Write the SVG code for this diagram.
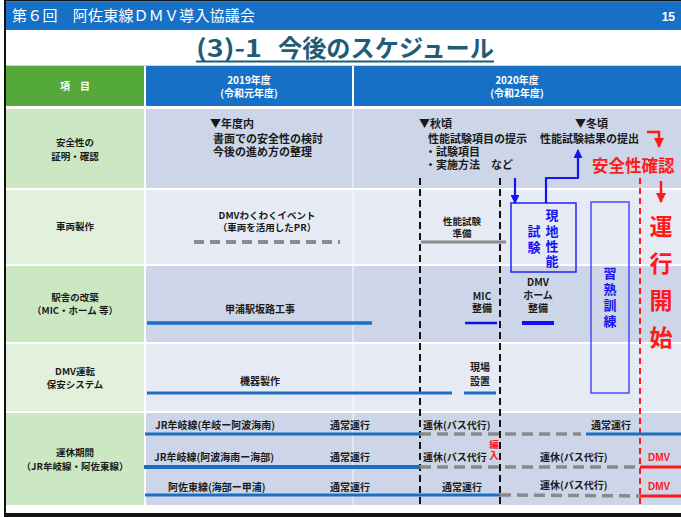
<svg xmlns="http://www.w3.org/2000/svg" width="681" height="517" viewBox="0 0 681 517">
<style>
text{font-family:"Noto Sans CJK JP","Noto Sans",sans-serif;}
.lbl{font-size:9.5px;font-weight:bold;fill:#1a1a1a;text-anchor:middle;}
.t{font-size:10px;font-weight:bold;fill:#1a1a1a;}
.tc{font-size:10px;font-weight:bold;fill:#1a1a1a;text-anchor:middle;}
.t11{font-size:11px;font-weight:bold;fill:#1a1a1a;}
.hd{font-size:10px;font-weight:bold;fill:#fff;text-anchor:middle;}
.red{fill:#ff1a1a;font-weight:bold;}
.vt{writing-mode:vertical-rl;}
.blu{fill:#1414f0;font-weight:bold;font-size:13px;}
.bl{stroke:#1a6fc4;stroke-width:3;fill:none;}
.gd{stroke:#8a8a8a;stroke-width:3.5;stroke-dasharray:11 6;fill:none;}
.rl{stroke:#ff1a1a;stroke-width:3;fill:none;}
.kd{stroke:#111;stroke-width:2;stroke-dasharray:7 4;fill:none;}
.ar{stroke:#1414f0;stroke-width:2.2;fill:none;}
.ra{stroke:#ff1a1a;stroke-width:2.5;fill:none;}
.dk{fill:#cdd6e9;}
.lt{fill:#e6eaf5;}
.gdk{fill:#cce8c2;}
.glt{fill:#e2f1dc;}
</style>
<defs>
<marker id="ahb" viewBox="0 0 10 10" refX="9" refY="5" markerWidth="4" markerHeight="4" orient="auto" markerUnits="strokeWidth"><path d="M0,0 L10,5 L0,10 Z" fill="#1414f0"/></marker>
<marker id="ahr" viewBox="0 0 10 10" refX="9" refY="5" markerWidth="4" markerHeight="4" orient="auto" markerUnits="strokeWidth"><path d="M0,0 L10,5 L0,10 Z" fill="#ff1a1a"/></marker>
</defs>
<rect x="0" y="0" width="681" height="517" fill="#fff"/>
<!-- frame -->
<rect x="4" y="0" width="677" height="1.5" fill="#111"/>
<rect x="4" y="0" width="2" height="517" fill="#111"/>
<rect x="4" y="513" width="677" height="4" fill="#111"/>
<!-- header bar -->
<g id="header">
<rect x="6" y="1.5" width="675" height="28.5" fill="#1570c6"/>
<text x="12" y="21" style="font-size:15px;fill:#fff;" textLength="243" lengthAdjust="spacing">第６回　阿佐東線ＤＭＶ導入協議会</text>
<text x="675" y="21" style="font-size:12px;font-weight:bold;fill:#fff;text-anchor:end;font-family:'Liberation Sans',sans-serif;">15</text>
</g>
<g id="title">
<text y="57" style="font-size:24px;font-weight:bold;fill:#1f5c78;"><tspan x="196" textLength="66" lengthAdjust="spacingAndGlyphs">(3)-1</tspan><tspan x="278" textLength="216" lengthAdjust="spacingAndGlyphs">今後のスケジュール</tspan></text>
<rect x="196" y="60.5" width="298" height="2" fill="#1f5c78"/>
</g>
<!-- table header -->
<g id="table-header">
<line x1="6" y1="65.5" x2="681" y2="65.5" stroke="#c8d4e4" stroke-width="1"/>
<rect x="6" y="66" width="138" height="40" fill="#55a83a"/>
<rect x="146" y="66" width="206" height="40" fill="#1570c6"/>
<rect x="354" y="66" width="327" height="40" fill="#1570c6"/>
<text class="hd" x="75" y="90">項　目</text>
<text class="hd"><tspan x="249" y="84">2019年度</tspan><tspan x="249" y="97">(令和元年度)</tspan></text>
<text class="hd"><tspan x="517" y="84">2020年度</tspan><tspan x="517" y="97">(令和2年度)</tspan></text>
</g>
<!-- rows backgrounds -->
<g id="rows">
<rect class="gdk" x="6" y="109" width="138" height="79"/>
<rect class="dk" x="146" y="109" width="535" height="79"/>
<rect class="glt" x="6" y="190" width="138" height="74"/>
<rect class="lt" x="146" y="190" width="535" height="74"/>
<rect class="gdk" x="6" y="266" width="138" height="76"/>
<rect class="dk" x="146" y="266" width="535" height="76"/>
<rect class="glt" x="6" y="344" width="138" height="67"/>
<rect class="lt" x="146" y="344" width="535" height="67"/>
<rect class="gdk" x="6" y="413" width="138" height="92"/>
<rect class="dk" x="146" y="413" width="535" height="92"/>
<line x1="353" y1="109" x2="353" y2="505" stroke="#fff" stroke-width="1" opacity="0.8"/>
</g>
<!-- row labels -->
<g id="label-safety"><text class="lbl"><tspan x="75" y="146">安全性の</tspan><tspan x="75" y="160">証明・確認</tspan></text></g>
<g id="label-vehicle"><text class="lbl" x="75" y="230">車両製作</text></g>
<g id="label-station"><text class="lbl"><tspan x="75" y="301">駅舎の改築</tspan><tspan x="75" y="314">（MIC・ホーム 等）</tspan></text></g>
<g id="label-system"><text class="lbl"><tspan x="75" y="375">DMV運転</tspan><tspan x="75" y="388">保安システム</tspan></text></g>
<g id="label-suspend"><text class="lbl"><tspan x="75" y="456">運休期間</tspan><tspan x="75" y="470">（JR牟岐線・阿佐東線）</tspan></text></g>
<!-- row 1 content -->
<g id="safety-2019">
<text class="t11"><tspan x="210" y="128">▼年度内</tspan><tspan x="213" y="143">書面での安全性の検討</tspan><tspan x="213" y="156">今後の進め方の整理</tspan></text>
</g>
<g id="safety-2020">
<text class="t11" xml:space="preserve"><tspan x="419" y="128">▼秋頃</tspan><tspan x="428" y="143">性能試験項目の提示</tspan><tspan x="425" y="156">・試験項目</tspan><tspan x="425" y="169">・実施方法　など</tspan></text>
<text class="t11"><tspan x="575" y="128">▼冬頃</tspan><tspan x="540" y="143">性能試験結果の提出</tspan></text>
<text class="red" x="592" y="172" style="font-size:16.5px;">安全性確認</text>
</g>
<!-- row 2 content -->
<g id="event"><text class="tc" style="font-size:9.5px"><tspan x="267" y="219">DMVわくわくイベント</tspan><tspan x="267" y="231">（車両を活用したPR）</tspan></text></g>
<g id="test-prep"><text class="tc" style="font-size:9.5px"><tspan x="462" y="225">性能試験</tspan><tspan x="462" y="237">準備</tspan></text></g>
<g id="field-test">
<rect x="511" y="203" width="65" height="69" fill="none" stroke="#2020ff" stroke-width="1.5"/>
<text class="blu vt" x="552" y="209" style="letter-spacing:2.3px">現地性能</text>
<text class="blu vt" x="534" y="225" style="letter-spacing:2.3px">試験</text>
</g>
<g id="training">
<rect x="591" y="202" width="38" height="191" fill="none" stroke="#4a4aff" stroke-width="1.5"/>
<text class="blu vt" x="610" y="267" style="letter-spacing:2.7px">習熟訓練</text>
</g>
<g id="start">
<text class="red vt" x="661" y="215" style="font-size:23px;letter-spacing:14px;">運行開始</text>
</g>
<!-- row 3 content -->
<g id="ramp"><text class="tc" x="260" y="313">甲浦駅坂路工事</text></g>
<g id="mic"><text class="tc"><tspan x="482" y="300">MIC</tspan><tspan x="482" y="312">整備</tspan></text></g>
<g id="dmv-home"><text class="tc"><tspan x="538" y="286">DMV</tspan><tspan x="538" y="299">ホーム</tspan><tspan x="538" y="312">整備</tspan></text></g>
<!-- row 4 content -->
<g id="equipment"><text class="tc" x="260" y="385">機器製作</text></g>
<g id="install"><text class="tc"><tspan x="480" y="371">現場</tspan><tspan x="480" y="385">設置</tspan></text></g>
<!-- row 5 content -->
<g id="line-mugi1">
<text class="t" x="155" y="429">JR牟岐線(牟岐ー阿波海南)</text>
<text class="t" x="330" y="429">通常運行</text>
<text class="t" x="423" y="429">運休(バス代行)</text>
<text class="t" x="591" y="429">通常運行</text>
</g>
<g id="line-mugi2">
<text class="t" x="154" y="461">JR牟岐線(阿波海南ー海部)</text>
<text class="t" x="330" y="461">通常運行</text>
<text class="t" x="423" y="461">運休(バス代行</text>
<text class="red vt" x="494" y="440" style="font-size:9.5px;letter-spacing:1px;">編入</text>
<text class="t" x="540" y="461">運休(バス代行)</text>
<text class="red" x="648" y="461" style="font-size:10px;font-family:'Liberation Sans',sans-serif;">DMV</text>
</g>
<g id="line-asa">
<text class="t" x="168" y="491">阿佐東線(海部ー甲浦)</text>
<text class="t" x="330" y="491">通常運行</text>
<text class="t" x="442" y="491">通常運行</text>
<text class="t" x="540" y="489">運休(バス代行)</text>
<text class="red" x="648" y="490" style="font-size:10px;font-family:'Liberation Sans',sans-serif;">DMV</text>
</g>
<!-- connectors -->
<g id="connectors">
<line class="kd" x1="420" y1="178" x2="420" y2="507"/>
<line class="kd" x1="500" y1="178" x2="500" y2="507"/>
<line x1="640" y1="178" x2="640" y2="505" stroke="#ff1a1a" stroke-width="2" stroke-dasharray="6 4"/>
<polyline class="ra" points="647,132 659,132 659,147" marker-end="url(#ahr)"/>
<line class="ra" x1="661" y1="181" x2="661" y2="202" marker-end="url(#ahr)"/>
<line class="ar" x1="515" y1="178" x2="515" y2="203" marker-end="url(#ahb)"/>
<polyline class="ar" points="546,203 546,178 578,178 578,150" marker-end="url(#ahb)"/>
<line x1="194" y1="242" x2="340" y2="242" stroke="#8a8a8a" stroke-width="4" stroke-dasharray="10 6"/>
<line x1="421" y1="242" x2="506" y2="242" stroke="#8a8a8a" stroke-width="3"/>
<line class="bl" x1="147" y1="323" x2="372" y2="323" style="stroke-width:3.5"/>
<line x1="465" y1="323" x2="497" y2="323" stroke="#1010ee" stroke-width="2.5"/>
<line x1="522" y1="323" x2="554" y2="323" stroke="#1010ee" stroke-width="4"/>
<line class="bl" x1="147" y1="393" x2="452" y2="393"/>
<line class="bl" x1="464" y1="393" x2="496" y2="393"/>
<line class="bl" x1="145" y1="434" x2="420" y2="434"/>
<line class="gd" x1="420" y1="434" x2="581" y2="434"/>
<line class="bl" x1="586" y1="434" x2="681" y2="434"/>
<line class="bl" x1="144" y1="467" x2="420" y2="467" style="stroke-width:4"/>
<line class="gd" x1="420" y1="467" x2="639" y2="467"/>
<line class="rl" x1="640" y1="467" x2="681" y2="467"/>
<line class="bl" x1="145" y1="495" x2="500" y2="495"/>
<line class="gd" x1="500" y1="495" x2="640" y2="496"/>
<line class="rl" x1="640" y1="496" x2="681" y2="496"/>
</g>
</svg>
